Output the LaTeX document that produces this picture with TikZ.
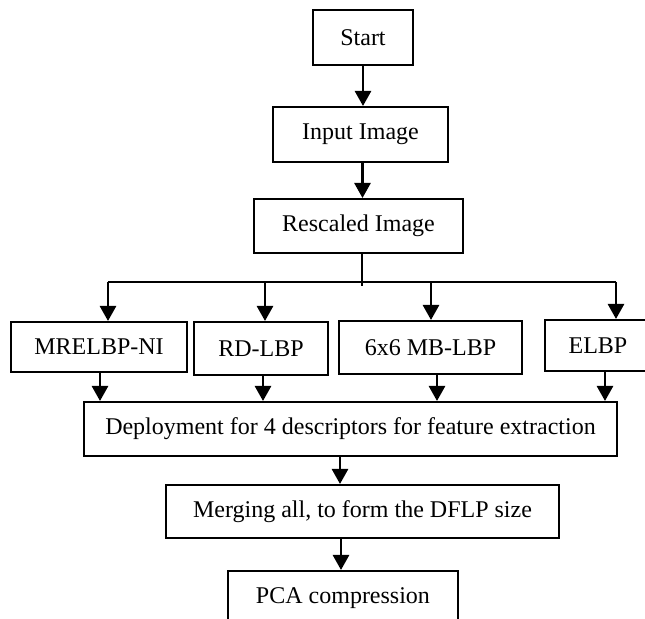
\documentclass[tikz,border=0pt]{standalone}
\usepackage{fontspec}
\setmainfont{Liberation Serif}
\usetikzlibrary{shapes,arrows.meta,positioning}

\begin{document}
\begin{tikzpicture}[% one unit is one pixel of the 645x619 page
			x=0.5pt,y=-0.5pt,
			every node/.style={
				align=center,  		% use this so that the "\\" for line break works
				font=\fontsize{12}{14}\selectfont
			},
			box/.style={rectangle,draw=black,line width=1pt,inner sep=0pt},
			arr/.style={-{Triangle[length=7.5pt,width=8pt]},line width=1.3pt}
		]
		\clip (0,0) rectangle (645,619);	% keeps the cut boxes at the edges
		\node[box,minimum width=50pt,minimum height=27.5pt](R1) at (363,37.5){Start};
		\node[box,minimum width=87.5pt,minimum height=27.5pt](R2) at (360.5,134.5){Input Image};
		\node[box,minimum width=104.5pt,minimum height=27pt](R3) at (358.5,226){Rescaled Image};
		\node[box,minimum width=88pt,minimum height=25pt](R4) at (99,347){MRELBP-NI};
		\node[box,minimum width=67pt,minimum height=26.5pt](R5) at (261,348.5){RD-LBP};
		\node[box,minimum width=91.5pt,minimum height=26.5pt](R6) at (430.5,347.5){6x6 MB-LBP};
		\node[box,minimum width=53pt,minimum height=25.5pt](R7) at (598,345.5){ELBP};
		\node[box,minimum width=266.5pt,minimum height=27pt](R8) at (350.5,429){Deployment for 4 descriptors for feature extraction};
		\node[box,minimum width=196.5pt,minimum height=26.5pt](R9) at (362.5,511.5){Merging all, to form the DFLP size};
		\node[box,minimum width=115pt,minimum height=27pt](R10) at (343,598){PCA compression};
		% branch line under the rescaled image
		\coordinate (J) at (362,282);
		\coordinate (B1) at (108,282);
		\coordinate (B2) at (265,282);
		\coordinate (B3) at (431,282);
		\coordinate (B4) at (616,282);
		\draw[line width=0.6pt] (R3.south -| J) -- ([yshift=-2pt]J);
		\draw[line width=0.6pt] (B1) -- (B4);
		\draw[arr] (R1.south) -- (R1.south |- R2.north);
		\draw[arr] ([xshift=1pt]R2.south) -- ([xshift=1pt]R2.south |- R3.north);
		\draw[arr] (B1) -- (B1 |- R4.north);
		\draw[arr] (B2) -- (B2 |- R5.north);
		\draw[arr] (B3) -- (B3 |- R6.north);
		\draw[arr] (B4) -- (B4 |- R7.north);
		\draw[arr] ([xshift=0.5pt]R4.south) -- ([xshift=0.5pt]R4.south |- R8.north);
		\draw[arr] ([xshift=1pt]R5.south) -- ([xshift=1pt]R5.south |- R8.north);
		\draw[arr] ([xshift=3.25pt]R6.south) -- ([xshift=3.25pt]R6.south |- R8.north);
		\draw[arr] ([xshift=3.5pt]R7.south) -- ([xshift=3.5pt]R7.south |- R8.north);
		\draw[arr] ([xshift=-5.25pt]R8.south) -- ([xshift=-5.25pt]R8.south |- R9.north);
		\draw[arr] ([xshift=-10.75pt]R9.south) -- ([xshift=-10.75pt]R9.south |- R10.north);
	\end{tikzpicture}
\end{document}
